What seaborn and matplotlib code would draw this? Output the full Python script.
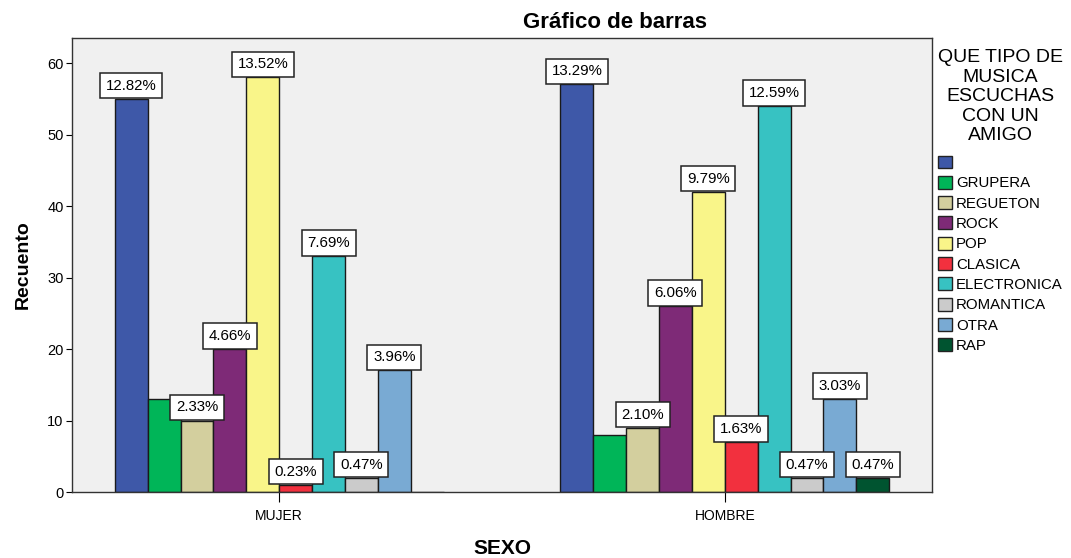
import matplotlib
matplotlib.use("Agg")
import matplotlib.pyplot as plt
from matplotlib.patches import Patch
import seaborn as sns
import pandas as pd

# ---- data ----
sexo = ["MUJER", "HOMBRE"]
musica = ["", "GRUPERA", "REGUETON", "ROCK", "POP", "CLASICA",
          "ELECTRONICA", "ROMANTICA", "OTRA", "RAP"]
mujer = [55, 13, 10, 20, 58, 1, 33, 2, 17, 0]
hombre = [57, 8, 9, 26, 42, 7, 54, 2, 13, 2]
colores = ["#3E58A8", "#00B558", "#D3CF9E", "#7E2A77", "#F9F589",
           "#F2303E", "#37C2C2", "#CBCBCB", "#79AAD3", "#005430"]
sin_etiqueta = ["GRUPERA"]

rows = []
for m, a, b in zip(musica, mujer, hombre):
    rows.append({"SEXO": "MUJER", "MUSICA": m, "Recuento": a})
    rows.append({"SEXO": "HOMBRE", "MUSICA": m, "Recuento": b})
df = pd.DataFrame(rows)
total = sum(mujer) + sum(hombre)

sns.set_theme(style="ticks")
plt.rcParams["font.family"] = ["Liberation Sans", "DejaVu Sans"]
plt.rcParams["text.color"] = "black"
plt.rcParams["axes.labelcolor"] = "black"
plt.rcParams["xtick.color"] = "black"
plt.rcParams["ytick.color"] = "black"

fig = plt.figure(figsize=(10.71, 5.58), dpi=100)
ax = fig.add_axes([72 / 1071, 66 / 558, 860 / 1071, 454 / 558])
ax.set_facecolor("#F0F0F0")

palette = dict(zip(musica, colores))
sns.barplot(data=df, x="SEXO", y="Recuento", hue="MUSICA", order=sexo,
            hue_order=musica, palette=palette, width=0.738, dodge=True,
            edgecolor="#1a1a1a", linewidth=1.0, saturation=1, legend=False,
            ax=ax, err_kws={"linewidth": 0})

for cont, m in zip(ax.containers, musica):
    labels = []
    for val in [mujer[musica.index(m)], hombre[musica.index(m)]]:
        if val == 0 or m in sin_etiqueta:
            labels.append("")
        else:
            labels.append(f"{val / total * 100:.2f}%")
    ax.bar_label(cont, labels=labels, padding=4.4, fontsize=10.8,
                 color="black",
                 bbox=dict(boxstyle="square,pad=0.38", facecolor="white",
                           edgecolor="#222222", linewidth=1.1))

ax.set_xlim(-0.465, 1.465)
ax.set_ylim(0, 63.5)
ax.set_yticks([0, 10, 20, 30, 40, 50, 60])
ax.tick_params(axis="y", labelsize=10.5, length=4, width=0.8, direction="out", pad=2)
ax.tick_params(axis="x", labelsize=10, length=7, width=0.8, direction="out", pad=5)
for s in ax.spines.values():
    s.set_color("#333333")
    s.set_linewidth(1.0)

ax.set_xlabel("SEXO", fontsize=15, fontweight="bold", labelpad=12)
ax.set_ylabel("Recuento", fontsize=14, fontweight="bold", labelpad=11)
fig.text(615 / 1071, 1 - 22 / 558, "Gráfico de barras", ha="center",
         va="center", fontsize=16, fontweight="bold")

handles = [Patch(facecolor=c, edgecolor="#222222", linewidth=1.0) for c in colores]
leg = fig.legend(handles, musica, loc="upper left",
                 bbox_to_anchor=(935 / 1071, 1 - 46 / 558),
                 title="QUE TIPO DE\nMUSICA\nESCUCHAS\nCON UN\nAMIGO",
                 frameon=False, fontsize=10.8, title_fontsize=14,
                 handlelength=0.9, handleheight=0.95, handletextpad=0.3,
                 labelspacing=0.38, borderpad=0.2, borderaxespad=0)
leg.get_title().set_multialignment("center")
leg.get_title().set_linespacing(1.2)
leg._legend_box.sep = 8

fig.savefig("out.png", dpi=100)
